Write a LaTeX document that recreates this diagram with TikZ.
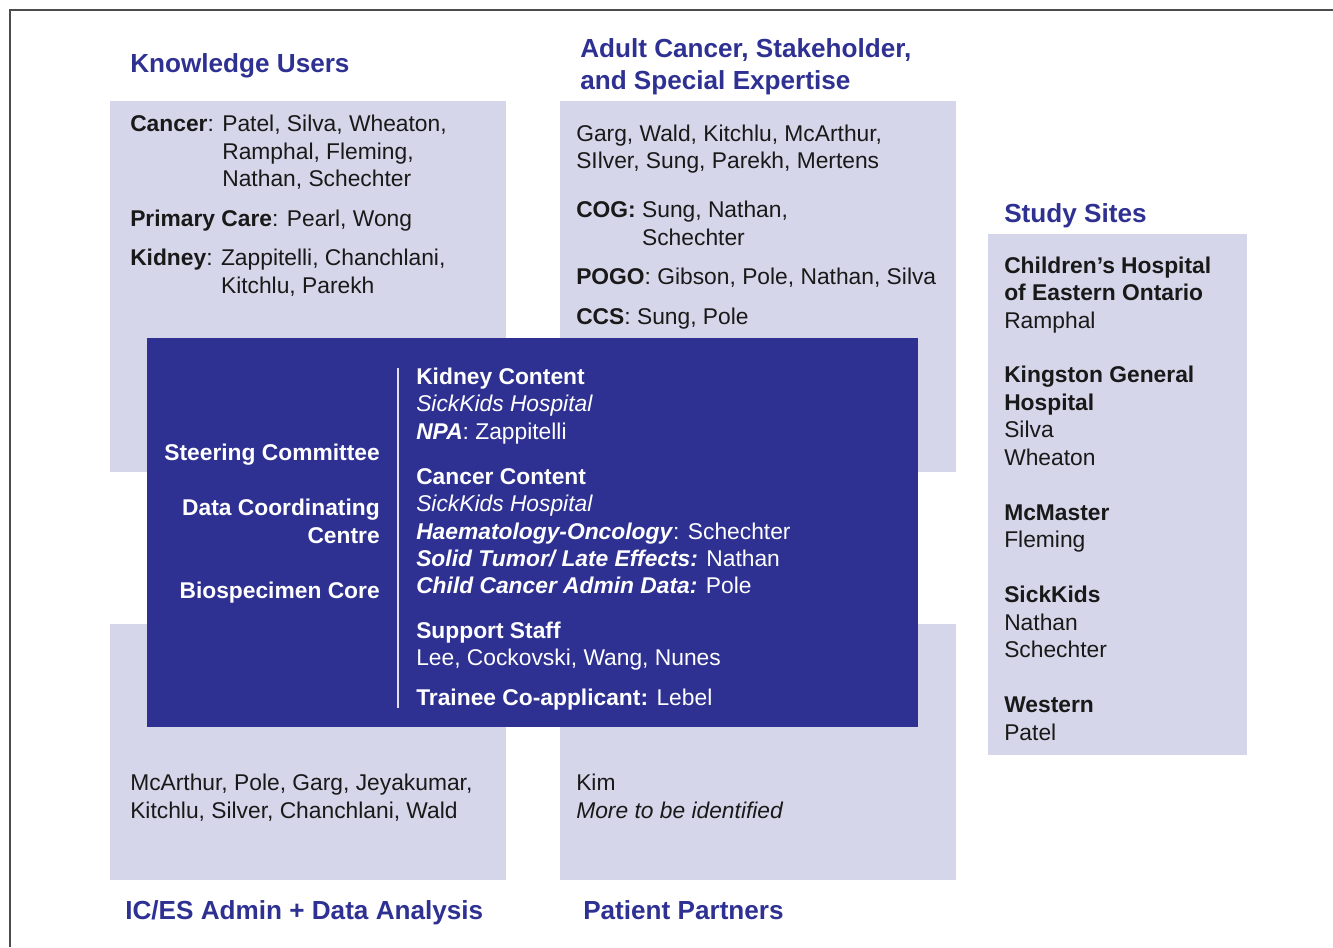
\documentclass[tikz,border=0pt]{standalone}
\usepackage{fontspec}
\setmainfont{Liberation Sans}

\definecolor{panelfill}{HTML}{D5D6E9}
\definecolor{coreblue}{HTML}{2E3192}
\definecolor{headblue}{HTML}{2E3192}
\newcommand{\namesize}{\fontsize{17.1pt}{20.6pt}\selectfont}
\newcommand{\headsize}{\fontsize{19.6pt}{24pt}\selectfont}

\begin{document}
\begin{tikzpicture}[
    x=0.75pt, y=-0.75pt,
    panel/.style={fill=panelfill},
    head/.style={anchor=base west, inner sep=0pt, align=left, font=\headsize\bfseries, text=headblue},
    names/.style={anchor=base west, inner sep=0pt, align=left, font=\namesize, text=black!90},
    corenames/.style={names, text=white}
]
\useasboundingbox (0,0) rectangle (1333,947);
% frame
\draw[black!70, line width=0.8pt] (10,947) -- (10,10) -- (1333,10);

% grey panels, core block on top
\fill[panel] (110,101) rectangle (506,472);
\fill[panel] (560,101) rectangle (956,472);
\fill[panel] (110,624) rectangle (506,880);
\fill[panel] (560,624) rectangle (956,880);
\fill[panel] (988,234) rectangle (1247,755);
\fill[coreblue] (147,338) rectangle (918,727);
\draw[white!85!coreblue, line width=1.1pt] (398,368) -- (398,708);

% headings (multi-line nodes sit on their last baseline)
\node[head] (users) at (130,72) {Knowledge Users};
\node[head] (adult) at (580,89) {Adult Cancer, Stakeholder,\\and Special Expertise};
\node[head] (sites) at (1004,222) {Study Sites};
\node[head] (icesHead) at (125,919) {IC/ES Admin + Data Analysis};
\node[head] (patients) at (583,919) {Patient Partners};

% panel contents
\node[names] (usersList) at (130,293) {%
  \textbf{Cancer}: Patel, Silva, Wheaton,\\
  \hphantom{\textbf{Cancer}: }Ramphal, Fleming,\\
  \hphantom{\textbf{Cancer}: }Nathan, Schechter\\[9pt]
  \textbf{Primary Care}: Pearl, Wong\\[9pt]
  \textbf{Kidney}: Zappitelli, Chanchlani,\\
  \hphantom{\textbf{Kidney}: }Kitchlu, Parekh};
\node[names] (adultList) at (576,324) {%
  Garg, Wald, Kitchlu, McArthur,\\
  SIlver, Sung, Parekh, Mertens\\[16pt]
  \textbf{COG:} Sung, Nathan,\\
  \hphantom{\textbf{COG:} }Schechter\\[9pt]
  \textbf{POGO}: Gibson, Pole, Nathan, Silva\\[9pt]
  \textbf{CCS}: Sung, Pole};
\node[names] (sitesList) at (1004,740) {%
  \textbf{Children’s Hospital}\\
  \textbf{of Eastern Ontario}\\
  Ramphal\\[20.6pt]
  \textbf{Kingston General}\\
  \textbf{Hospital}\\
  Silva\\
  Wheaton\\[20.6pt]
  \textbf{McMaster}\\
  Fleming\\[20.6pt]
  \textbf{SickKids}\\
  Nathan\\
  Schechter\\[20.6pt]
  \textbf{Western}\\
  Patel};
\node[names] (icesList) at (130,818) {%
  McArthur, Pole, Garg, Jeyakumar,\\
  Kitchlu, Silver, Chanchlani, Wald};
\node[names] (patientsList) at (576,818) {%
  Kim\\
  \textit{More to be identified}};

% core block
\node[corenames, anchor=base east, align=right, font=\namesize\bfseries] (coreUnits) at (380,598) {%
  Steering Committee\\[20.6pt]
  Data Coordinating\\
  Centre\\[20.6pt]
  Biospecimen Core};
\node[corenames] (coreContent) at (416,705) {%
  \textbf{Kidney Content}\\
  \textit{SickKids Hospital}\\
  \textbf{\textit{NPA}}: Zappitelli\\[13pt]
  \textbf{Cancer Content}\\
  \textit{SickKids Hospital}\\
  \textbf{\textit{Haematology-Oncology}}: Schechter\\
  \textbf{\textit{Solid Tumor/ Late Effects:}} Nathan\\
  \textbf{\textit{Child Cancer Admin Data:}} Pole\\[12.5pt]
  \textbf{Support Staff}\\
  Lee, Cockovski, Wang, Nunes\\[9pt]
  \textbf{Trainee Co-applicant:} Lebel};
\end{tikzpicture}
\end{document}
